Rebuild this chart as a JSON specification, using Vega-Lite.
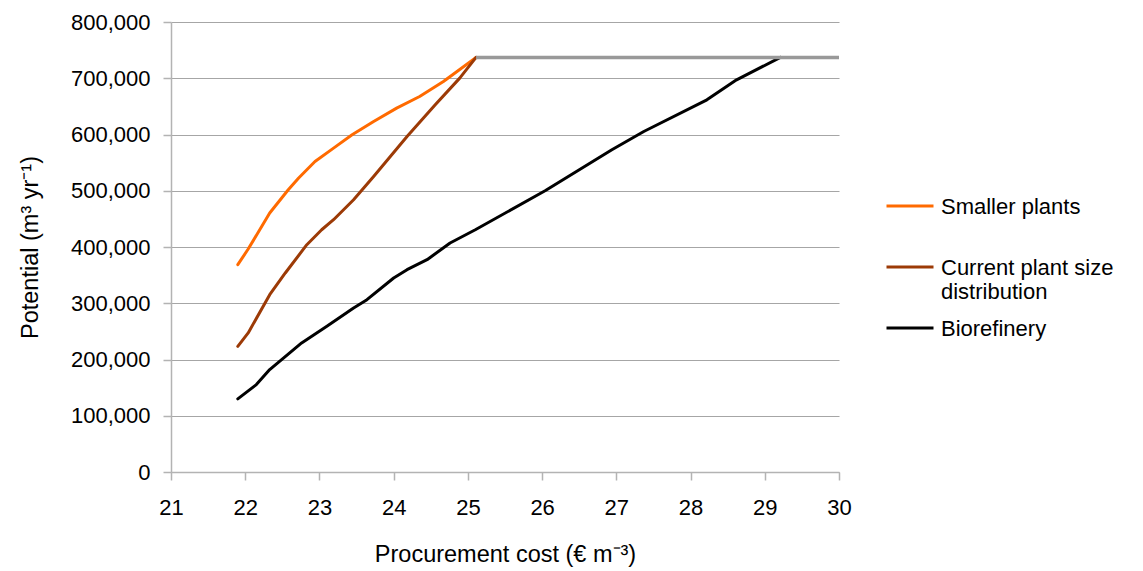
{
  "$schema": "https://vega.github.io/schema/vega-lite/v6.json",
  "width": 668,
  "height": 450,
  "autosize": {"type": "none"},
  "padding": {"left": 171, "top": 22, "right": 304, "bottom": 99},
  "background": "white",
  "config": {
    "font": "Liberation Sans",
    "view": {"stroke": null},
    "axis": {
      "labelFont": "Liberation Sans",
      "titleFont": "Liberation Sans",
      "labelFontSize": 22,
      "titleFontSize": 23.5,
      "titleFontWeight": "normal",
      "labelColor": "#000000",
      "titleColor": "#000000",
      "domainColor": "#b3b3b3",
      "tickColor": "#b3b3b3",
      "gridColor": "#a6a6a6",
      "domainWidth": 1.5,
      "tickWidth": 1.5,
      "gridWidth": 1.2,
      "tickSize": 8,
      "labelFlush": false,
      "labelOverlap": false
    },
    "legend": {
      "labelFont": "Liberation Sans",
      "labelFontSize": 22,
      "labelColor": "#000000"
    }
  },
  "datasets": {
    "curves": [
      {"cost": 21.90, "potential": 368600, "series": "Smaller plants"},
      {"cost": 22.04, "potential": 396400, "series": "Smaller plants"},
      {"cost": 22.33, "potential": 460400, "series": "Smaller plants"},
      {"cost": 22.58, "potential": 501800, "series": "Smaller plants"},
      {"cost": 22.72, "potential": 522600, "series": "Smaller plants"},
      {"cost": 22.94, "potential": 552000, "series": "Smaller plants"},
      {"cost": 23.19, "potential": 575800, "series": "Smaller plants"},
      {"cost": 23.44, "potential": 599500, "series": "Smaller plants"},
      {"cost": 23.73, "potential": 623100, "series": "Smaller plants"},
      {"cost": 24.04, "potential": 646900, "series": "Smaller plants"},
      {"cost": 24.35, "potential": 667500, "series": "Smaller plants"},
      {"cost": 24.67, "potential": 694100, "series": "Smaller plants"},
      {"cost": 25.11, "potential": 737000, "series": "Smaller plants"},
      {"cost": 21.90, "potential": 223400, "series": "Current plant size distribution"},
      {"cost": 22.04, "potential": 247200, "series": "Current plant size distribution"},
      {"cost": 22.33, "potential": 315300, "series": "Current plant size distribution"},
      {"cost": 22.54, "potential": 353800, "series": "Current plant size distribution"},
      {"cost": 22.83, "potential": 404100, "series": "Current plant size distribution"},
      {"cost": 23.03, "potential": 430700, "series": "Current plant size distribution"},
      {"cost": 23.19, "potential": 448500, "series": "Current plant size distribution"},
      {"cost": 23.46, "potential": 484000, "series": "Current plant size distribution"},
      {"cost": 23.73, "potential": 525400, "series": "Current plant size distribution"},
      {"cost": 24.18, "potential": 596400, "series": "Current plant size distribution"},
      {"cost": 24.56, "potential": 652800, "series": "Current plant size distribution"},
      {"cost": 24.89, "potential": 700200, "series": "Current plant size distribution"},
      {"cost": 25.11, "potential": 737000, "series": "Current plant size distribution"},
      {"cost": 21.90, "potential": 130000, "series": "Biorefinery"},
      {"cost": 22.15, "potential": 155400, "series": "Biorefinery"},
      {"cost": 22.33, "potential": 182100, "series": "Biorefinery"},
      {"cost": 22.76, "potential": 229500, "series": "Biorefinery"},
      {"cost": 23.10, "potential": 259000, "series": "Biorefinery"},
      {"cost": 23.46, "potential": 291600, "series": "Biorefinery"},
      {"cost": 23.64, "potential": 306400, "series": "Biorefinery"},
      {"cost": 24.00, "potential": 344900, "series": "Biorefinery"},
      {"cost": 24.18, "potential": 359700, "series": "Biorefinery"},
      {"cost": 24.45, "potential": 377400, "series": "Biorefinery"},
      {"cost": 24.76, "potential": 407100, "series": "Biorefinery"},
      {"cost": 25.10, "potential": 430700, "series": "Biorefinery"},
      {"cost": 26.04, "potential": 500000, "series": "Biorefinery"},
      {"cost": 26.94, "potential": 572800, "series": "Biorefinery"},
      {"cost": 27.37, "potential": 605300, "series": "Biorefinery"},
      {"cost": 28.22, "potential": 661600, "series": "Biorefinery"},
      {"cost": 28.62, "potential": 697200, "series": "Biorefinery"},
      {"cost": 29.21, "potential": 737000, "series": "Biorefinery"}
    ],
    "cap": [
      {"cost": 25.11, "potential": 737000},
      {"cost": 30, "potential": 737000}
    ]
  },
  "layer": [
    {
      "data": {"name": "curves"},
      "mark": {"type": "line", "strokeWidth": 3, "strokeJoin": "round", "strokeCap": "round"},
      "encoding": {
        "x": {
          "field": "cost", "type": "quantitative",
          "scale": {"domain": [21, 30], "nice": false, "zero": false},
          "axis": {
            "values": [21, 22, 23, 24, 25, 26, 27, 28, 29, 30],
            "format": "d",
            "grid": false,
            "title": "Procurement cost (€ m⁻³)",
            "labelPadding": 17,
            "titlePadding": 24
          }
        },
        "y": {
          "field": "potential", "type": "quantitative",
          "scale": {"domain": [0, 800000], "nice": false},
          "axis": {
            "values": [0, 100000, 200000, 300000, 400000, 500000, 600000, 700000, 800000],
            "format": ",d",
            "grid": true,
            "title": "Potential (m³ yr⁻¹)",
            "labelPadding": 13,
            "titlePadding": 28
          }
        },
        "color": {
          "field": "series", "type": "nominal",
          "scale": {
            "domain": ["Smaller plants", "Current plant size distribution", "Biorefinery"],
            "range": ["#ff6a00", "#9c3a06", "#000000"]
          },
          "legend": {
            "title": null,
            "orient": "none",
            "legendX": 714,
            "legendY": 159,
            "symbolType": "stroke",
            "symbolSize": 2209,
            "symbolStrokeWidth": 3,
            "labelOffset": 6,
            "rowPadding": -3,
            "gridAlign": "all",
            "labelLimit": 400,
            "labelBaseline": "alphabetic",
            "labelExpr": "datum.label == 'Current plant size distribution' ? ['Current plant size', 'distribution'] : datum.label",
            "encode": {
              "labels": {"update": {"dy": {"value": 8}}}
            }
          }
        }
      }
    },
    {
      "data": {"name": "cap"},
      "mark": {"type": "line", "strokeWidth": 3.5, "color": "#999999"},
      "encoding": {
        "x": {"field": "cost", "type": "quantitative"},
        "y": {"field": "potential", "type": "quantitative"}
      }
    }
  ]
}
